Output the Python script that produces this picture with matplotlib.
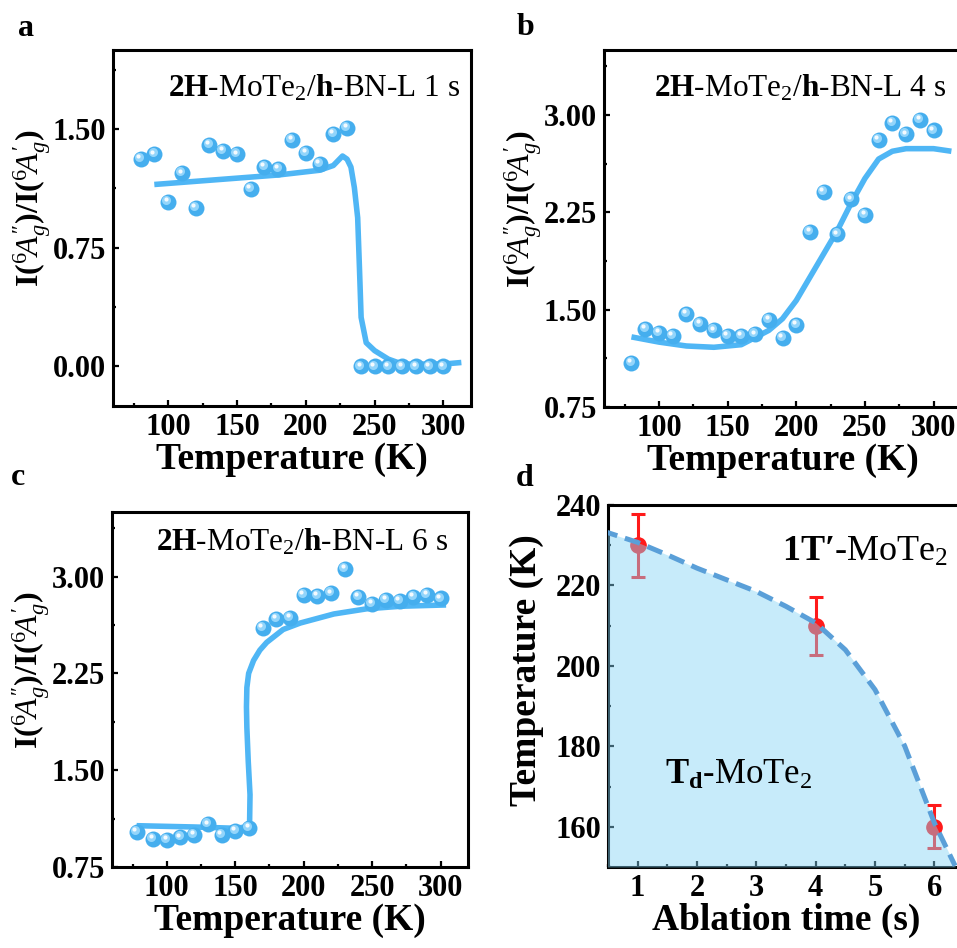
import matplotlib.pyplot as plt
import matplotlib.transforms as mtransforms
from matplotlib.ticker import MultipleLocator, FormatStrFormatter

plt.rcParams['font.family'] = 'Liberation Serif'
plt.rcParams['mathtext.fontset'] = 'custom'
plt.rcParams['mathtext.rm'] = 'Liberation Serif'
plt.rcParams['mathtext.it'] = 'Liberation Serif:italic'
plt.rcParams['mathtext.bf'] = 'Liberation Serif:bold'

# panel a : 1 s
a_T = [80, 90, 100, 110, 120, 130, 140, 150, 160, 170, 180, 190, 200, 210, 220, 230,
       240, 250, 260, 270, 280, 290, 300]
a_R = [1.31, 1.34, 1.04, 1.22, 1.00, 1.40, 1.36, 1.34, 1.12, 1.26, 1.25, 1.43, 1.35, 1.28,
       1.47, 1.51, 0.0, 0.0, 0.0, 0.0, 0.0, 0.0, 0.0]
a_fit_T = [90, 120, 150, 180, 210, 220, 226.7, 230, 232.8, 235.3, 237.7, 239, 240.2, 243.9,
           250, 260, 270, 300, 313]
a_fit_R = [1.15, 1.17, 1.19, 1.21, 1.24, 1.27, 1.33, 1.31, 1.26, 1.13, 0.94, 0.62, 0.31, 0.15,
           0.10, 0.046, 0.015, 0.015, 0.025]

# panel b : 4 s
b_T = [80, 90, 100, 110, 120, 130, 140, 150, 160, 170, 180, 190, 200, 210, 220, 230,
       240, 250, 260, 270, 280, 290, 300]
b_R = [1.09, 1.35, 1.32, 1.30, 1.47, 1.39, 1.34, 1.30, 1.30, 1.31, 1.42, 1.28, 1.38, 2.10,
       2.41, 2.08, 2.35, 2.23, 2.81, 2.94, 2.85, 2.96, 2.88]
b_fit_T = [80, 100, 120, 140, 160, 180, 190, 200, 210, 220, 230, 240, 250, 260, 270, 280,
           300, 313]
b_fit_R = [1.29, 1.25, 1.22, 1.21, 1.23, 1.34, 1.43, 1.57, 1.75, 1.93, 2.11, 2.32, 2.51, 2.66,
           2.72, 2.74, 2.74, 2.72]

# panel c : 6 s
c_T = [78, 90, 100, 110, 120, 130, 140, 150, 160, 170, 180, 190, 200, 210, 220, 230,
       240, 250, 260, 270, 280, 290, 300]
c_R = [1.02, 0.97, 0.96, 0.98, 1.00, 1.08, 1.00, 1.03, 1.05, 2.60, 2.67, 2.68, 2.86, 2.85,
       2.87, 3.06, 2.84, 2.79, 2.82, 2.81, 2.84, 2.86, 2.83]
c_fit_T = [78, 120, 150, 158, 160.5, 160.8, 159.5, 158.5, 158.2, 158.5, 159.8, 163.4, 168,
           173, 185, 197.5, 222, 246, 271, 304]
c_fit_R = [1.07, 1.06, 1.05, 1.06, 1.10, 1.31, 1.57, 1.83, 1.99, 2.14, 2.25, 2.35, 2.43,
           2.49, 2.59, 2.64, 2.71, 2.75, 2.77, 2.78]

# panel d : transition temperature vs ablation time
d_t = [1, 4, 6]
d_Tc = [230, 210, 160]
d_err = [7.8, 7.2, 5.4]
d_curve_t = [0.4, 1.0, 1.5, 2.0, 2.5, 3.0, 3.5, 4.0, 4.5, 5.0, 5.5, 6.0, 6.35]
d_curve_T = [233.6, 230.7, 227.6, 224.3, 221.4, 218.5, 214.8, 210.7, 204.0, 194.1, 180.1,
             161.0, 150.3]

W, H = 957, 948
fig = plt.figure(figsize=(W / 100, H / 100), dpi=100)


def px_axes(l, t, r, b):
    return fig.add_axes([l / W, 1 - b / H, (r - l) / W, (b - t) / H])


def style(ax):
    for s in ax.spines.values():
        s.set_linewidth(2.2)
    ax.tick_params(which='both', direction='in', width=1.6, labelsize=22, top=False, right=False)
    ax.tick_params(which='major', length=4.5, pad=5)
    ax.tick_params(which='minor', length=2.5)
    for lbl in ax.get_xticklabels() + ax.get_yticklabels():
        lbl.set_fontweight('bold')


def balls(ax, x, y):
    ax.plot(x, y, 'o', ms=11.5, color='#45aeee', mec='none', zorder=4, clip_on=False)
    off1 = ax.transData + mtransforms.ScaledTranslation(-1.2 / 72, 1.4 / 72, fig.dpi_scale_trans)
    ax.plot(x, y, 'o', ms=6.5, color='#93d5fb', mec='none', transform=off1, zorder=5, clip_on=False)
    off2 = ax.transData + mtransforms.ScaledTranslation(-1.6 / 72, 2.0 / 72, fig.dpi_scale_trans)
    ax.plot(x, y, 'o', ms=3, color='white', mec='none', alpha=0.9, transform=off2, zorder=6,
            clip_on=False)


ylab = r'$\mathbf{I(}{}^{6}\!A_{g}^{\prime\prime}\mathbf{)/I(}{}^{6}\!A_{g}^{\prime}\mathbf{)}$'
line_c = '#4fb6f5'


def temp_panel(ax, T, R, fT, fR, ylim, yticks, title, tx, ty):
    ax.plot(fT, fR, color=line_c, lw=4, solid_capstyle='butt', zorder=3)
    balls(ax, T, R)
    ax.set_xlim(60, 320)
    ax.set_ylim(*ylim)
    ax.set_xticks([100, 150, 200, 250, 300])
    ax.xaxis.set_minor_locator(MultipleLocator(25))
    ax.set_yticks(yticks)
    ax.yaxis.set_minor_locator(MultipleLocator(0.375))
    ax.yaxis.set_major_formatter(FormatStrFormatter('%.2f'))
    ax.set_xlabel('Temperature (K)', fontsize=27, fontweight='bold', labelpad=0)
    ax.set_ylabel(ylab, fontsize=23, labelpad=0)
    ax.yaxis.label.set_y(0.555)
    ax.text(tx, ty, r'$\mathbf{2H}\text{-MoTe}_2\text{/}\mathbf{h}\text{-BN-L ' + title + r' s}$',
            transform=ax.transAxes, ha='right', va='center', fontsize=22.5)
    style(ax)


ax_a = px_axes(113, 50, 471, 406)
temp_panel(ax_a, a_T, a_R, a_fit_T, a_fit_R, (-0.25, 2.0), [0.0, 0.75, 1.5], '1', 0.97, 0.893)

ax_b = px_axes(604, 50, 961, 407)
temp_panel(ax_b, b_T, b_R, b_fit_T, b_fit_R, (0.75, 3.5), [0.75, 1.5, 2.25, 3.0], '4', 0.96, 0.893)

ax_c = px_axes(112, 512, 468, 867)
temp_panel(ax_c, c_T, c_R, c_fit_T, c_fit_R, (0.75, 3.5), [0.75, 1.5, 2.25, 3.0], '6', 0.944, 0.916)

ax_d = px_axes(608, 505, 964, 867)
ax_d.errorbar(d_t, d_Tc, yerr=d_err, fmt='o', ms=11, color='#ff1a1a', ecolor='#ff1a1a',
              elinewidth=2.2, capsize=5, capthick=2.2, zorder=2)
ax_d.fill_between(d_curve_t, d_curve_T, 150, color='#84d4f6', alpha=0.45, lw=0, zorder=3)
ax_d.plot(d_curve_t, d_curve_T, color='#5a9fd8', lw=3.6, dashes=(3.2, 1.6), zorder=4)
ax_d.set_xlim(0.5, 6.5)
ax_d.set_ylim(150, 240)
ax_d.set_xticks([1, 2, 3, 4, 5, 6])
ax_d.xaxis.set_minor_locator(MultipleLocator(0.5))
ax_d.set_yticks([160, 180, 200, 220, 240])
ax_d.yaxis.set_minor_locator(MultipleLocator(10))
ax_d.set_xlabel('Ablation time (s)', fontsize=27, fontweight='bold', labelpad=0)
ax_d.set_ylabel('Temperature (K)', fontsize=27, fontweight='bold', labelpad=8)
ax_d.yaxis.label.set_y(0.544)
ax_d.text(0.49, 0.87, r'$\mathbf{1T\prime}\text{-MoTe}_2$', transform=ax_d.transAxes,
          ha='left', va='center', fontsize=26)
ax_d.text(0.16, 0.254, r'$\mathbf{T_d}\text{-MoTe}_2$', transform=ax_d.transAxes,
          ha='left', va='center', fontsize=25)
style(ax_d)

for lab, x, y in [('a', 18, 36), ('b', 517, 35), ('c', 11, 485), ('d', 516, 486)]:
    fig.text(x / W, 1 - y / H, lab, fontsize=23, fontweight='bold', va='baseline')

fig.savefig('out.png', dpi=100)
